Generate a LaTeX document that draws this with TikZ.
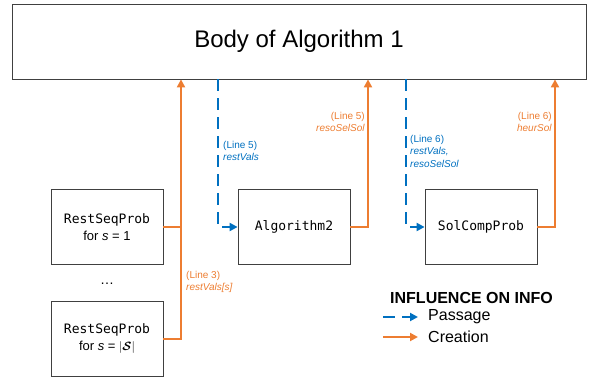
\documentclass[tikz,border=0pt]{standalone}
\usepackage{amsmath}
\usepackage{fontspec}
\setmainfont{Liberation Sans}
\setmonofont{DejaVu Sans Mono}
\usepackage{xcolor}
\usetikzlibrary{arrows.meta, calc, positioning}

\definecolor{passblue}{RGB}{0,112,192}
\definecolor{createorange}{RGB}{237,125,49}

\tikzset{
    procbox/.style={draw=black!75, line width=0.8pt, minimum width=112pt, minimum height=75pt, align=center, font=\fontsize{13}{17}\selectfont},
    pass/.style={passblue, line width=2pt, dash pattern=on 12pt off 7pt, -{Triangle[length=8pt,width=8pt]}},
    create/.style={createorange, line width=2pt, -{Triangle[length=8pt,width=8pt]}},
    passlbl/.style={text=passblue, font=\fontsize{10}{12.5}\selectfont, align=left, inner sep=0pt},
    createlbl/.style={text=createorange, font=\fontsize{10}{12.5}\selectfont, inner sep=0pt},
    legendtxt/.style={font=\fontsize{16}{19}\selectfont, inner sep=0pt, anchor=west}
}

\begin{document}
\begin{tikzpicture}[x=1pt, y=-1pt]
    \useasboundingbox (0, 0) rectangle (597, 380);

    \node[draw=black!75, line width=0.8pt, minimum width=574pt, minimum height=75pt, font=\fontsize{24}{28}\selectfont] (body) at (299, 41.5) {Body of Algorithm 1};

    \node[procbox] (rsp1) at (107, 227) {\texttt{RestSeqProb}\\for \textit{s} = 1};
    \node[font=\fontsize{14}{17}\selectfont] (dots) at (107, 284) {\dots};
    \node[procbox] (rsp2) at (107, 339) {\texttt{RestSeqProb}\\for \textit{s} = $|\boldsymbol{\mathcal{S}}|$};
    \node[procbox] (alg2) at (294, 227) {\texttt{Algorithm2}};
    \node[procbox] (solc) at (481, 227) {\texttt{SolCompProb}};

    \coordinate (trunk3) at (181, 0);
    \coordinate (pass5) at (218, 0);
    \coordinate (trunk5) at (368, 0);
    \coordinate (pass6) at (406, 0);
    \coordinate (trunk6) at (555, 0);

    \draw[createorange, line width=2pt] (rsp1.east) -- (rsp1.east -| trunk3);
    \draw[create] (rsp2.east) -| (body.south -| trunk3);
    \draw[pass] (body.south -| pass5) |- (alg2.west);
    \draw[create] (alg2.east) -| (body.south -| trunk5);
    \draw[pass] (body.south -| pass6) |- (solc.west);
    \draw[create] (solc.east) -| (body.south -| trunk6);

    \node[createlbl, align=left, anchor=north west] (lbl3) at (186, 271) {(Line 3)\\\textit{restVals[s]}};
    \node[passlbl, anchor=north west] (lbl5p) at (223, 141) {(Line 5)\\\textit{restVals}};
    \node[createlbl, align=right, anchor=north east] (lbl5c) at (365, 112) {(Line 5)\\\textit{resoSelSol}};
    \node[passlbl, anchor=north west] (lbl6p) at (410, 135) {(Line 6)\\\textit{restVals,}\\\textit{resoSelSol}};
    \node[createlbl, align=right, anchor=north east] (lbl6c) at (552, 112) {(Line 6)\\\textit{heurSol}};

    \node[legendtxt, font=\fontsize{16}{19}\bfseries\selectfont] (lgdtitle) at (390, 298) {INFLUENCE ON INFO};
    \node[legendtxt] (lgdpass) at (428, 317) {Passage};
    \node[legendtxt] (lgdcreate) at (428, 337) {Creation};
    \coordinate (lgdp0) at (383, 317);
    \coordinate (lgdc0) at (383, 337);
    \draw[pass] (lgdp0) -- ([xshift=-10pt]lgdpass.west);
    \draw[create] (lgdc0) -- ([xshift=-10pt]lgdcreate.west);
\end{tikzpicture}
\end{document}
